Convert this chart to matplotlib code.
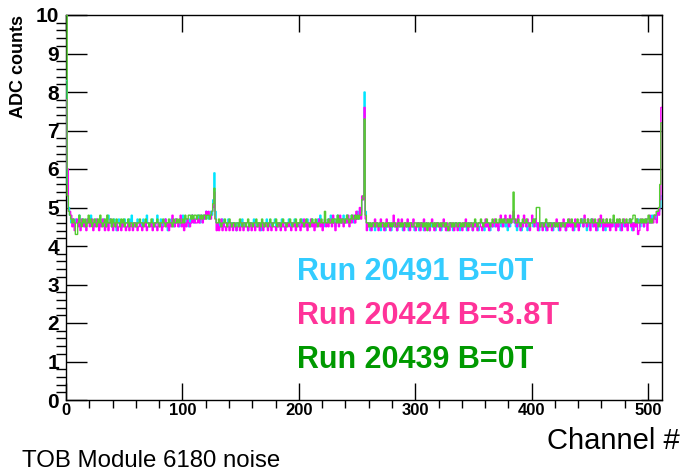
import numpy as np
import matplotlib
matplotlib.use("Agg")
import matplotlib.pyplot as plt
from matplotlib.ticker import MultipleLocator
from matplotlib import font_manager

plt.rcParams['font.family'] = ['Liberation Sans', 'DejaVu Sans']
_names = {f.name for f in font_manager.fontManager.ttflist}
NARROW = 'Liberation Sans Narrow' if 'Liberation Sans Narrow' in _names else None

# ---- data (ADC noise per channel) ----
channels_edges = np.arange(513)

run20491_b0 = [
    8.3, 5.6, 5.0, 4.8, 4.6, 4.7, 4.6, 4.5, 4.7, 4.6, 4.6, 4.8, 4.5, 4.6, 4.7, 4.6,
    4.5, 4.6, 4.7, 4.6, 4.6, 4.8, 4.6, 4.5, 4.6, 4.7, 4.6, 4.6, 4.5, 4.7, 4.6, 4.6,
    4.7, 4.5, 4.6, 4.6, 4.8, 4.7, 4.6, 4.5, 4.6, 4.7, 4.6, 4.4, 4.6, 4.7, 4.6, 4.6,
    4.5, 4.6, 4.7, 4.6, 4.6, 4.5, 4.7, 4.6, 4.8, 4.6, 4.6, 4.5, 4.6, 4.7, 4.6, 4.6,
    4.6, 4.5, 4.7, 4.6, 4.6, 4.8, 4.6, 4.5, 4.6, 4.6, 4.7, 4.6, 4.5, 4.6, 4.8, 4.6,
    4.6, 4.7, 4.5, 4.6, 4.6, 4.7, 4.6, 4.4, 4.6, 4.6, 4.7, 4.6, 4.5, 4.6, 4.7, 4.6,
    4.6, 4.5, 4.7, 4.6, 4.8, 4.6, 4.6, 4.7, 4.6, 4.5, 4.7, 4.6, 4.8, 4.7, 4.6, 4.7,
    4.7, 4.8, 4.7, 4.6, 4.8, 4.7, 4.7, 4.8, 4.9, 4.8, 4.7, 4.8, 4.9, 4.8, 5.2, 5.9,
    4.9, 4.6, 4.5, 4.6, 4.5, 4.6, 4.7, 4.5, 4.6, 4.6, 4.5, 4.7, 4.6, 4.5, 4.6, 4.6,
    4.5, 4.6, 4.4, 4.6, 4.6, 4.5, 4.6, 4.7, 4.5, 4.6, 4.6, 4.5, 4.4, 4.6, 4.6, 4.5,
    4.6, 4.7, 4.5, 4.6, 4.6, 4.5, 4.6, 4.4, 4.6, 4.6, 4.5, 4.6, 4.7, 4.5, 4.6, 4.6,
    4.5, 4.6, 4.6, 4.7, 4.5, 4.6, 4.5, 4.6, 4.6, 4.7, 4.5, 4.6, 4.6, 4.5, 4.6, 4.7,
    4.6, 4.5, 4.6, 4.6, 4.7, 4.5, 4.6, 4.6, 4.5, 4.6, 4.7, 4.6, 4.5, 4.6, 4.6, 4.7,
    4.6, 4.5, 4.6, 4.7, 4.6, 4.6, 4.5, 4.6, 4.7, 4.6, 4.8, 4.6, 4.6, 4.5, 4.7, 4.6,
    4.6, 4.7, 4.6, 4.8, 4.6, 4.6, 4.7, 4.5, 4.6, 4.8, 4.7, 4.6, 4.7, 4.6, 4.8, 4.7,
    4.6, 4.8, 4.7, 4.6, 4.7, 4.8, 4.7, 4.6, 4.8, 4.7, 4.9, 4.7, 4.8, 4.9, 5.2, 5.3,
    8.0, 4.9, 4.6, 4.5, 4.6, 4.4, 4.5, 4.6, 4.5, 4.4, 4.6, 4.5, 4.5, 4.6, 4.4, 4.5,
    4.6, 4.5, 4.4, 4.6, 4.5, 4.5, 4.6, 4.4, 4.5, 4.6, 4.5, 4.5, 4.4, 4.6, 4.5, 4.6,
    4.5, 4.4, 4.5, 4.6, 4.5, 4.5, 4.4, 4.6, 4.5, 4.6, 4.5, 4.4, 4.5, 4.5, 4.6, 4.4,
    4.5, 4.6, 4.5, 4.4, 4.5, 4.6, 4.5, 4.5, 4.4, 4.6, 4.5, 4.5, 4.6, 4.4, 4.5, 4.6,
    4.5, 4.5, 4.4, 4.6, 4.5, 4.6, 4.5, 4.4, 4.5, 4.5, 4.6, 4.5, 4.4, 4.5, 4.6, 4.5,
    4.5, 4.6, 4.4, 4.5, 4.5, 4.6, 4.5, 4.5, 4.4, 4.6, 4.5, 4.6, 4.5, 4.4, 4.6, 4.5,
    4.6, 4.5, 4.4, 4.5, 4.6, 4.6, 4.5, 4.4, 4.6, 4.5, 4.6, 4.5, 4.4, 4.6, 4.5, 4.6,
    4.5, 4.6, 4.6, 4.4, 4.5, 4.6, 4.5, 4.6, 4.7, 4.5, 4.6, 4.4, 4.6, 4.5, 4.6, 4.7,
    4.8, 4.6, 4.5, 4.4, 4.6, 4.5, 4.6, 4.4, 4.5, 4.6, 4.6, 4.5, 4.4, 4.6, 4.5, 4.6,
    4.6, 4.5, 4.7, 4.6, 4.5, 4.6, 4.4, 4.6, 4.5, 4.6, 4.6, 4.5, 4.4, 4.6, 4.5, 4.6,
    4.5, 4.6, 4.4, 4.6, 4.5, 4.6, 4.6, 4.4, 4.5, 4.6, 4.6, 4.5, 4.6, 4.4, 4.6, 4.5,
    4.6, 4.5, 4.6, 4.6, 4.4, 4.6, 4.5, 4.6, 4.6, 4.5, 4.6, 4.7, 4.5, 4.6, 4.6, 4.4,
    4.6, 4.5, 4.6, 4.7, 4.5, 4.6, 4.6, 4.5, 4.4, 4.6, 4.6, 4.5, 4.6, 4.6, 4.5, 4.4,
    4.6, 4.5, 4.6, 4.6, 4.5, 4.6, 4.7, 4.5, 4.6, 4.6, 4.5, 4.6, 4.4, 4.6, 4.6, 4.5,
    4.6, 4.6, 4.5, 4.6, 4.7, 4.5, 4.4, 4.6, 4.6, 4.5, 4.6, 4.7, 4.6, 4.5, 4.6, 4.6,
    4.5, 4.6, 4.7, 4.6, 4.6, 4.7, 4.6, 4.8, 4.7, 4.8, 4.7, 4.8, 4.9, 4.9, 5.0, 5.3,
]

run20424_b38 = [
    7.8, 6.0, 4.9, 4.9, 4.8, 4.5, 4.7, 4.4, 4.6, 4.7, 4.5, 4.6, 4.4, 4.7, 4.6, 4.5,
    4.6, 4.4, 4.7, 4.6, 4.5, 4.6, 4.7, 4.4, 4.6, 4.5, 4.7, 4.6, 4.4, 4.6, 4.5, 4.7,
    4.6, 4.4, 4.5, 4.6, 4.4, 4.6, 4.7, 4.5, 4.4, 4.6, 4.5, 4.6, 4.4, 4.5, 4.6, 4.4,
    4.6, 4.5, 4.6, 4.4, 4.5, 4.6, 4.4, 4.6, 4.5, 4.4, 4.6, 4.5, 4.6, 4.4, 4.5, 4.6,
    4.5, 4.4, 4.6, 4.5, 4.6, 4.4, 4.5, 4.6, 4.5, 4.6, 4.4, 4.5, 4.6, 4.5, 4.4, 4.6,
    4.5, 4.6, 4.4, 4.5, 4.6, 4.7, 4.5, 4.6, 4.4, 4.6, 4.5, 4.8, 4.6, 4.5, 4.7, 4.6,
    4.5, 4.6, 4.8, 4.5, 4.6, 4.4, 4.6, 4.5, 4.7, 4.6, 4.5, 4.6, 4.8, 4.6, 4.7, 4.6,
    4.6, 4.7, 4.6, 4.8, 4.7, 4.6, 4.8, 4.7, 4.9, 4.8, 4.9, 4.8, 4.7, 4.9, 5.0, 5.4,
    4.7, 4.4, 4.6, 4.4, 4.5, 4.7, 4.4, 4.6, 4.5, 4.4, 4.6, 4.5, 4.4, 4.6, 4.5, 4.4,
    4.6, 4.5, 4.4, 4.5, 4.6, 4.4, 4.5, 4.6, 4.4, 4.5, 4.6, 4.5, 4.4, 4.5, 4.6, 4.4,
    4.5, 4.6, 4.4, 4.5, 4.5, 4.6, 4.4, 4.5, 4.6, 4.4, 4.5, 4.6, 4.5, 4.4, 4.6, 4.5,
    4.4, 4.6, 4.5, 4.5, 4.4, 4.6, 4.5, 4.6, 4.4, 4.5, 4.6, 4.5, 4.4, 4.6, 4.5, 4.6,
    4.5, 4.4, 4.6, 4.5, 4.6, 4.4, 4.5, 4.6, 4.5, 4.4, 4.6, 4.5, 4.7, 4.5, 4.6, 4.4,
    4.6, 4.5, 4.7, 4.5, 4.6, 4.4, 4.6, 4.5, 4.6, 4.7, 4.5, 4.6, 4.4, 4.6, 4.7, 4.5,
    4.6, 4.5, 4.7, 4.6, 4.5, 4.8, 4.6, 4.4, 4.6, 4.7, 4.5, 4.8, 4.6, 4.7, 4.5, 4.6,
    4.7, 4.6, 4.8, 4.5, 4.7, 4.6, 4.8, 4.7, 4.6, 4.9, 4.7, 4.8, 5.0, 4.7, 5.3, 5.2,
    7.6, 4.7, 4.4, 4.6, 4.5, 4.6, 4.4, 4.5, 4.6, 4.7, 4.5, 4.6, 4.4, 4.5, 4.7, 4.5,
    4.6, 4.4, 4.5, 4.7, 4.5, 4.6, 4.4, 4.5, 4.6, 4.8, 4.5, 4.6, 4.4, 4.7, 4.5, 4.6,
    4.7, 4.5, 4.4, 4.6, 4.5, 4.7, 4.5, 4.4, 4.6, 4.5, 4.7, 4.5, 4.4, 4.6, 4.5, 4.6,
    4.4, 4.6, 4.5, 4.7, 4.4, 4.5, 4.6, 4.5, 4.4, 4.6, 4.7, 4.5, 4.4, 4.6, 4.5, 4.6,
    4.5, 4.4, 4.6, 4.5, 4.7, 4.5, 4.4, 4.6, 4.5, 4.4, 4.6, 4.5, 4.6, 4.4, 4.5, 4.6,
    4.4, 4.5, 4.6, 4.5, 4.4, 4.6, 4.5, 4.7, 4.5, 4.4, 4.6, 4.5, 4.6, 4.4, 4.5, 4.6,
    4.5, 4.4, 4.6, 4.6, 4.5, 4.4, 4.6, 4.5, 4.7, 4.5, 4.6, 4.4, 4.5, 4.6, 4.5, 4.6,
    4.7, 4.5, 4.6, 4.4, 4.6, 4.8, 4.6, 4.5, 4.7, 4.8, 4.6, 4.7, 4.5, 4.8, 4.6, 4.7,
    4.9, 4.6, 4.7, 4.5, 4.8, 4.6, 4.4, 4.6, 4.5, 4.8, 4.6, 4.5, 4.7, 4.6, 4.4, 4.6,
    4.8, 4.6, 4.5, 4.7, 4.6, 4.4, 4.6, 4.5, 4.6, 4.4, 4.5, 4.6, 4.5, 4.4, 4.6, 4.5,
    4.6, 4.4, 4.5, 4.6, 4.5, 4.7, 4.5, 4.6, 4.4, 4.6, 4.5, 4.7, 4.5, 4.4, 4.6, 4.5,
    4.7, 4.5, 4.6, 4.4, 4.6, 4.7, 4.5, 4.6, 4.4, 4.6, 4.7, 4.6, 4.5, 4.8, 4.6, 4.5,
    4.7, 4.6, 4.4, 4.6, 4.7, 4.5, 4.6, 4.4, 4.6, 4.7, 4.5, 4.8, 4.6, 4.4, 4.6, 4.5,
    4.7, 4.5, 4.6, 4.4, 4.6, 4.5, 4.7, 4.6, 4.4, 4.6, 4.5, 4.7, 4.6, 4.4, 4.6, 4.7,
    4.5, 4.6, 4.4, 4.6, 4.7, 4.5, 4.6, 4.4, 4.6, 4.5, 4.7, 4.3, 4.4, 4.6, 4.7, 4.6,
    4.5, 4.6, 4.7, 4.4, 4.6, 4.8, 4.6, 4.7, 4.6, 4.8, 4.7, 4.6, 4.9, 4.8, 5.2, 7.6,
]

run20439_b0 = [
    10.0, 5.3, 4.9, 4.8, 4.7, 4.6, 4.7, 4.6, 4.3, 4.3, 4.6, 4.8, 4.6, 4.5, 4.7, 4.6,
    4.7, 4.5, 4.6, 4.8, 4.6, 4.7, 4.5, 4.6, 4.7, 4.6, 4.5, 4.7, 4.6, 4.8, 4.6, 4.5,
    4.6, 4.7, 4.5, 4.8, 4.6, 4.6, 4.7, 4.5, 4.7, 4.6, 4.5, 4.7, 4.6, 4.6, 4.5, 4.7,
    4.6, 4.7, 4.5, 4.6, 4.6, 4.7, 4.5, 4.6, 4.6, 4.5, 4.6, 4.6, 4.5, 4.6, 4.6, 4.7,
    4.6, 4.6, 4.5, 4.6, 4.7, 4.6, 4.6, 4.5, 4.6, 4.7, 4.6, 4.5, 4.6, 4.6, 4.7, 4.6,
    4.5, 4.6, 4.6, 4.7, 4.6, 4.5, 4.6, 4.6, 4.7, 4.6, 4.6, 4.5, 4.7, 4.6, 4.6, 4.7,
    4.6, 4.7, 4.6, 4.6, 4.7, 4.6, 4.8, 4.7, 4.7, 4.8, 4.8, 4.7, 4.8, 4.7, 4.8, 4.8,
    4.7, 4.8, 4.8, 4.7, 4.8, 4.7, 4.8, 4.8, 4.7, 4.8, 4.8, 4.7, 4.8, 4.9, 5.1, 5.5,
    4.7, 4.6, 4.6, 4.7, 4.6, 4.5, 4.6, 4.6, 4.7, 4.6, 4.5, 4.6, 4.7, 4.6, 4.5, 4.6,
    4.6, 4.5, 4.6, 4.6, 4.5, 4.7, 4.6, 4.5, 4.6, 4.6, 4.5, 4.6, 4.7, 4.5, 4.6, 4.6,
    4.5, 4.6, 4.6, 4.7, 4.5, 4.6, 4.6, 4.5, 4.7, 4.6, 4.5, 4.6, 4.6, 4.5, 4.6, 4.7,
    4.6, 4.5, 4.6, 4.6, 4.7, 4.5, 4.6, 4.6, 4.5, 4.6, 4.7, 4.6, 4.6, 4.5, 4.6, 4.6,
    4.7, 4.6, 4.5, 4.6, 4.6, 4.7, 4.5, 4.6, 4.6, 4.7, 4.6, 4.6, 4.5, 4.6, 4.7, 4.6,
    4.6, 4.5, 4.6, 4.7, 4.6, 4.6, 4.7, 4.6, 4.5, 4.6, 4.6, 4.7, 4.6, 4.6, 4.9, 4.6,
    4.6, 4.7, 4.6, 4.6, 4.7, 4.6, 4.7, 4.7, 4.6, 4.8, 4.6, 4.7, 4.6, 4.7, 4.7, 4.6,
    4.7, 4.8, 4.7, 4.6, 4.7, 4.8, 4.7, 4.7, 4.8, 4.7, 4.8, 4.7, 4.8, 4.8, 5.2, 5.3,
    7.3, 4.8, 4.6, 4.6, 4.5, 4.6, 4.5, 4.6, 4.6, 4.5, 4.6, 4.6, 4.5, 4.6, 4.5, 4.6,
    4.6, 4.5, 4.6, 4.5, 4.6, 4.6, 4.5, 4.6, 4.5, 4.6, 4.6, 4.5, 4.5, 4.6, 4.6, 4.5,
    4.6, 4.5, 4.6, 4.6, 4.5, 4.6, 4.5, 4.6, 4.6, 4.5, 4.5, 4.6, 4.6, 4.5, 4.6, 4.5,
    4.6, 4.6, 4.5, 4.6, 4.5, 4.6, 4.4, 4.6, 4.5, 4.6, 4.6, 4.5, 4.6, 4.5, 4.6, 4.6,
    4.5, 4.6, 4.5, 4.6, 4.6, 4.5, 4.6, 4.5, 4.4, 4.6, 4.6, 4.5, 4.6, 4.5, 4.6, 4.6,
    4.5, 4.6, 4.6, 4.5, 4.6, 4.5, 4.6, 4.6, 4.5, 4.6, 4.5, 4.6, 4.6, 4.5, 4.6, 4.7,
    4.6, 4.5, 4.6, 4.6, 4.7, 4.6, 4.5, 4.6, 4.6, 4.7, 4.6, 4.6, 4.5, 4.6, 4.7, 4.6,
    4.6, 4.7, 4.6, 4.6, 4.7, 4.6, 4.7, 4.6, 4.7, 4.6, 4.6, 4.7, 4.6, 4.7, 4.6, 4.7,
    5.4, 4.7, 4.6, 4.6, 4.7, 4.6, 4.5, 4.6, 4.7, 4.6, 4.6, 4.7, 4.6, 4.6, 4.5, 4.6,
    4.6, 4.7, 4.6, 4.7, 5.0, 5.0, 5.0, 4.5, 4.6, 4.6, 4.5, 4.6, 4.7, 4.6, 4.5, 4.6,
    4.6, 4.5, 4.6, 4.6, 4.5, 4.6, 4.5, 4.6, 4.6, 4.5, 4.6, 4.6, 4.5, 4.6, 4.6, 4.7,
    4.6, 4.6, 4.7, 4.6, 4.6, 4.5, 4.6, 4.7, 4.6, 4.6, 4.7, 4.6, 4.6, 4.7, 4.6, 4.6,
    4.7, 4.6, 4.6, 4.7, 4.6, 4.6, 4.7, 4.6, 4.6, 4.5, 4.7, 4.6, 4.6, 4.7, 4.6, 4.6,
    4.7, 4.6, 4.6, 4.7, 4.6, 4.6, 4.8, 4.6, 4.6, 4.7, 4.6, 4.7, 4.6, 4.6, 4.7, 4.6,
    4.6, 4.7, 4.6, 4.6, 4.7, 4.6, 4.7, 4.8, 4.8, 4.6, 4.7, 4.6, 4.6, 4.7, 4.6, 4.7,
    4.6, 4.7, 4.6, 4.7, 4.8, 4.6, 4.7, 4.6, 4.7, 4.8, 4.8, 4.9, 4.9, 5.0, 5.6, 7.2,
]

series_labels = ["Run 20491 B=0T", "Run 20424 B=3.8T", "Run 20439 B=0T"]
line_colors = ["#00e5ff", "#ff00ff", "#55cc33"]
text_colors = ["#33ccff", "#ff3399", "#009900"]

x_major_ticks = [0, 100, 200, 300, 400, 500]
y_major_ticks = list(range(0, 11))

# ---- figure ----
W, H = 683, 474
fig = plt.figure(figsize=(W / 100, H / 100), dpi=100)
ax = fig.add_axes([66 / W, 1 - 400 / H, (662 - 66) / W, (400 - 15) / H])

for vals, col in zip([run20491_b0, run20424_b38, run20439_b0], line_colors):
    ax.stairs(vals, channels_edges, color=col, lw=1.0, baseline=None, zorder=3)

ax.set_xlim(0, 512)
ax.set_ylim(0, 10)
ax.set_xticks(x_major_ticks)
ax.set_yticks(y_major_ticks)
ax.xaxis.set_minor_locator(MultipleLocator(20))
ax.yaxis.set_minor_locator(MultipleLocator(0.2))

ax.tick_params(direction='in', top=True, right=True, colors='black')
ax.tick_params(axis='x', which='major', length=12, width=1, pad=2, labelsize=12)
ax.tick_params(axis='x', which='minor', length=6, width=1)
ax.tick_params(axis='y', which='major', length=15, width=1, pad=5, labelsize=15)
ax.tick_params(axis='y', which='minor', length=7, width=1)
for lab in ax.get_xticklabels() + ax.get_yticklabels():
    lab.set_fontweight('bold')
if NARROW:
    for lab in ax.get_xticklabels():
        lab.set_family(NARROW)
        lab.set_fontsize(14)
for sp in ax.spines.values():
    sp.set_linewidth(1.0)

ax.set_ylabel("ADC counts", fontsize=13, fontweight='bold', loc='top', labelpad=6)

fig.text(680 / W, 1 - 441 / H, "Channel #", fontsize=21, ha='right', va='center')
if NARROW:
    fig.text(22 / W, 1 - 461 / H, "TOB Module 6180 noise", fontsize=21,
             family=NARROW, ha='left', va='center')
else:
    fig.text(22 / W, 1 - 461 / H, "TOB Module 6180 noise", fontsize=17.3,
             ha='left', va='center')

for lbl, col, yb in zip(series_labels, text_colors, [280, 324, 368]):
    fig.text(297 / W, 1 - yb / H, lbl, fontsize=22, fontweight='bold',
             color=col, ha='left', va='baseline')

fig.savefig("out.png", dpi=100)
